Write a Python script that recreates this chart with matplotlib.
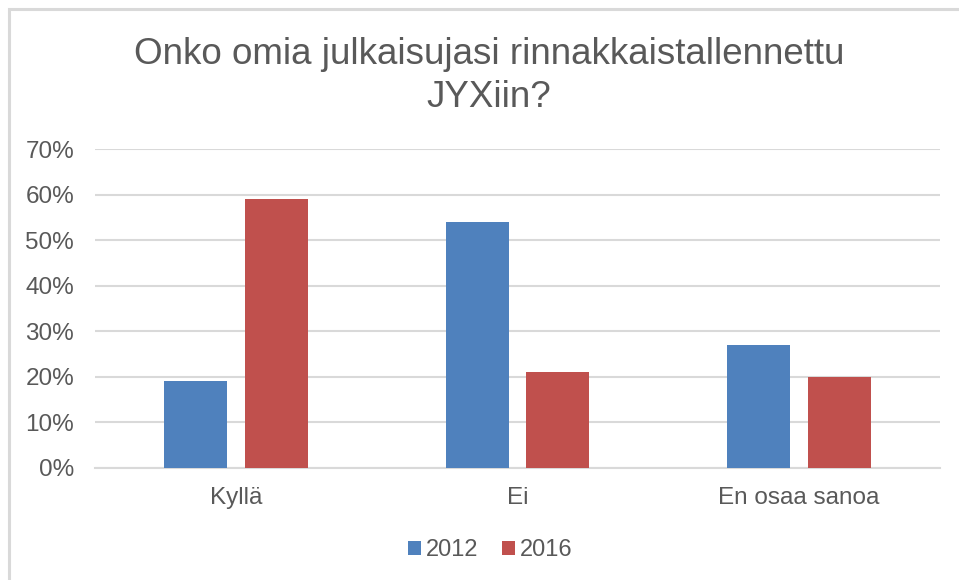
import matplotlib.pyplot as plt
import numpy as np
from matplotlib.patches import Rectangle
from matplotlib.ticker import FuncFormatter

plt.rcParams['font.family'] = ['Liberation Sans', 'DejaVu Sans']

categories = ['Kyllä', 'Ei', 'En osaa sanoa']
years = ['2012', '2016']
vals_2012 = [0.19, 0.54, 0.27]
vals_2016 = [0.59, 0.21, 0.20]
colors = ['#4f81bd', '#c0504d']
text_col = '#595959'
grid_col = '#d9d9d9'

fig = plt.figure(figsize=(9.59, 5.8), dpi=100)
ax = fig.add_axes([95 / 959, 1 - 468 / 580, (940 - 95) / 959, (468 - 149) / 580])

x = np.arange(len(categories))
w = 0.223
off = 0.143
ax.bar(x - off, vals_2012, w, color=colors[0], label=years[0], zorder=3)
ax.bar(x + off, vals_2016, w, color=colors[1], label=years[1], zorder=3)

ax.set_xlim(-0.5, len(categories) - 0.5)
ax.set_ylim(0, 0.7)
ax.set_yticks(np.arange(0, 0.71, 0.1))
ax.yaxis.set_major_formatter(FuncFormatter(lambda v, p: f'{v * 100:.0f}%'))
ax.set_xticks(x)
ax.set_xticklabels(categories)
ax.tick_params(axis='both', length=0, labelsize=17.5, colors=text_col)
ax.tick_params(axis='y', pad=15)
ax.tick_params(axis='x', pad=14)
ax.grid(axis='y', color=grid_col, linewidth=1.5, zorder=0)
for s in ['top', 'right', 'left']:
    ax.spines[s].set_visible(False)
ax.spines['bottom'].set_color(grid_col)
ax.spines['bottom'].set_linewidth(1.5)

fig.text(489 / 959, 1 - 76 / 580, 'Onko omia julkaisujasi rinnakkaistallennettu\nJYXiin?',
         ha='center', va='center', fontsize=26.5, color=text_col, linespacing=1.28)

fig.legend(loc='center', bbox_to_anchor=(490 / 959, 1 - 550 / 580), ncol=2, frameon=False,
           fontsize=17, labelcolor=text_col, handlelength=0.55, handleheight=0.55,
           handletextpad=0.2, columnspacing=1.0)

# chart border (top and left edge visible, rest cut off)
fig.patches.append(Rectangle((8.5 / 959, -0.1), 1.2, 1 - 9.5 / 580 + 0.1, transform=fig.transFigure,
                             fill=False, edgecolor='#d9d9d9', linewidth=2.2))

fig.savefig('out.png', dpi=100)
